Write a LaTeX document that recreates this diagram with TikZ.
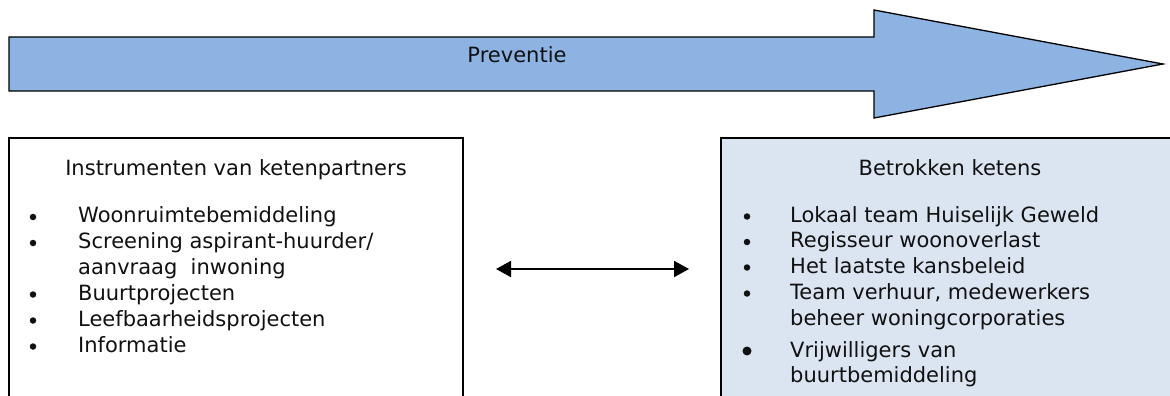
\documentclass[tikz,border=0pt]{standalone}
\usepackage{fontspec}
\setmainfont{DejaVu Sans}
\usetikzlibrary{arrows.meta}
\definecolor{arrowblue}{HTML}{8DB3E2}
\definecolor{boxblue}{HTML}{DBE5F1}
\definecolor{ink}{HTML}{111111}
\begin{document}
\begin{tikzpicture}[x=1pt,y=-1pt,
  txt/.style={inner sep=0pt,anchor=base west,text=ink,font=\fontsize{21}{25}\selectfont},
  ttl/.style={inner sep=0pt,anchor=base,text=ink,font=\fontsize{21}{25}\selectfont},
  frame/.style={draw=black,line width=1.6pt},
  bul/.style={circle,fill=ink,inner sep=0pt,minimum size=6.5pt},
  bigbul/.style={circle,fill=ink,inner sep=0pt,minimum size=9pt}]
\useasboundingbox (0,0) rectangle (1170,396);
\clip (0,0) rectangle (1170,396);

% large block arrow
\draw[fill=arrowblue,line width=1.3pt,line join=miter]
  (9,37) -- (874,37) -- (874,10) -- (1163,64) -- (874,118) -- (874,91) -- (9,91) -- cycle;
\node[ttl] (prev) at (517,63) {Preventie};

% left box
\draw[frame,fill=white] (9,138) rectangle (463,420);
\node[ttl] (ltitle) at (236,175) {Instrumenten van ketenpartners};
\foreach \y/\n in {222.5/l1,248.5/l2,300/l3,326/l4,352/l5}
  \node[bul] (b\n) at (33,\y-5.5) {};
\node[txt] (l1) at (78,222.5) {Woonruimtebemiddeling};
\node[txt] (l2) at (78,248.5) {Screening aspirant-huurder/};
\node[txt] (l2b) at (78,274.5) {aanvraag\ \ inwoning};
\node[txt] (l3) at (78,300) {Buurtprojecten};
\node[txt] (l4) at (78,326) {Leefbaarheidsprojecten};
\node[txt] (l5) at (78,352) {Informatie};

% right box
\draw[frame,fill=boxblue] (721,138) rectangle (1190,420);
\node[ttl] (rtitle) at (950,175) {Betrokken ketens};
\foreach \y/\n in {222/r1,247.5/r2,273/r3,299/r4}
  \node[bul] (b\n) at (747,\y-5.5) {};
\node[bigbul] (br5) at (747,351) {};
\node[txt] (r1) at (790,222) {Lokaal team Huiselijk Geweld};
\node[txt] (r2) at (790,247.5) {Regisseur woonoverlast};
\node[txt] (r3) at (790,273) {Het laatste kansbeleid};
\node[txt] (r4) at (790,299) {Team verhuur, medewerkers};
\node[txt] (r4b) at (790,325) {beheer woningcorporaties};
\node[txt] (r5) at (790,357) {Vrijwilligers van};
\node[txt] (r5b) at (790,382) {buurtbemiddeling};

% two-way link between the boxes
\coordinate (la) at (496,269);
\coordinate (ra) at (689,269);
\draw[line width=2pt,{Triangle[length=15pt,width=16pt]}-{Triangle[length=15pt,width=16pt]}] (la) -- (ra);
\end{tikzpicture}
\end{document}
